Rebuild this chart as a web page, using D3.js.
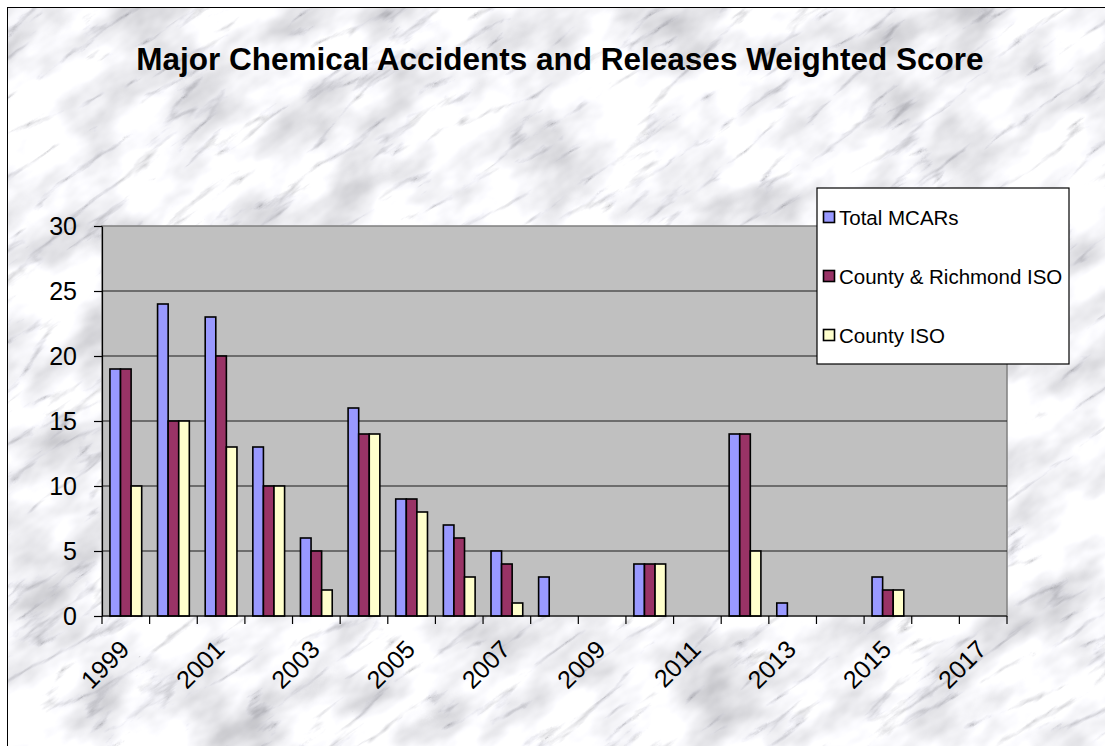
<!DOCTYPE html>
<html>
<head>
  <meta charset="utf-8">
  <script src="https://d3js.org/d3.v7.min.js"></script>
  <style>
    body { margin: 0; background: #fff; }
    text { font-family: Arial, "Liberation Sans", sans-serif; fill: #000; }
  </style>
</head>
<body>
<script type="text/javascript">
  "use strict";

  // chart values
  var years = ["1999", "2000", "2001", "2002", "2003", "2004", "2005", "2006", "2007", "2008",
               "2009", "2010", "2011", "2012", "2013", "2014", "2015", "2016", "2017"];
  var seriesNames = ["Total MCARs", "County & Richmond ISO", "County ISO"];
  var totalMcars        = [19, 24, 23, 13, 6, 16, 9, 7, 5, 3, 0, 4, 0, 14, 1, 0, 3, 0, 0];
  var countyRichmondIso = [19, 15, 20, 10, 5, 14, 9, 6, 4, 0, 0, 4, 0, 14, 0, 0, 2, 0, 0];
  var countyIso         = [10, 15, 13, 10, 2, 14, 8, 3, 1, 0, 0, 4, 0, 5, 0, 0, 2, 0, 0];
  var yTicks = [0, 5, 10, 15, 20, 25, 30];
  var xLabels = ["1999", "2001", "2003", "2005", "2007", "2009", "2011", "2013", "2015", "2017"];
  var colors = ["#9999ff", "#993366", "#ffffcc"];

  var W = 1105, H = 746;
  var plot = { left: 102, right: 1007, top: 226, bottom: 616 };

  var seriesValues = [totalMcars, countyRichmondIso, countyIso];
  var rows = [];
  years.forEach(function (yr, i) {
    seriesNames.forEach(function (s, j) {
      rows.push({ year: yr, series: s, value: seriesValues[j][i], color: colors[j] });
    });
  });

  var svg = d3.select("body").append("svg")
      .attr("width", W)
      .attr("height", H);

  /*
    marble background: soft clouds times thin veins
  */
  var defs = svg.append("defs");
  var f = defs.append("filter")
      .attr("id", "marble")
      .attr("x", "0%").attr("y", "0%")
      .attr("width", "100%").attr("height", "100%");
  f.append("feTurbulence")
      .attr("type", "fractalNoise")
      .attr("baseFrequency", "0.012 0.022")
      .attr("numOctaves", 4)
      .attr("seed", 3)
      .attr("result", "cloudNoise");
  f.append("feColorMatrix")
      .attr("in", "cloudNoise")
      .attr("type", "matrix")
      .attr("values", "0.9 0 0 0 0.47  0.9 0 0 0 0.47  0.9 0 0 0 0.5  0 0 0 0 1")
      .attr("result", "clouds");
  f.append("feTurbulence")
      .attr("type", "turbulence")
      .attr("baseFrequency", "0.007 0.03")
      .attr("numOctaves", 5)
      .attr("seed", 11)
      .attr("result", "veinNoise");
  f.append("feColorMatrix")
      .attr("in", "veinNoise")
      .attr("type", "matrix")
      .attr("values", "2.2 0 0 0 0.6  2.2 0 0 0 0.6  2.2 0 0 0 0.62  0 0 0 0 1")
      .attr("result", "veins");
  f.append("feBlend")
      .attr("in", "clouds")
      .attr("in2", "veins")
      .attr("mode", "multiply");

  defs.append("clipPath").attr("id", "chartClip")
    .append("rect")
      .attr("x", 7).attr("y", 7)
      .attr("width", W).attr("height", H);

  var bg = svg.append("g").attr("clip-path", "url(#chartClip)");
  bg.append("rect")
      .attr("x", 7).attr("y", 7).attr("width", W).attr("height", H)
      .attr("fill", "#e6e6ea");
  bg.append("g")
      .attr("transform", "translate(550,370) rotate(-35)")
    .append("rect")
      .attr("x", -900).attr("y", -700).attr("width", 1800).attr("height", 1400)
      .attr("filter", "url(#marble)");

  svg.append("rect")
      .attr("x", 7.5).attr("y", 7.5).attr("width", W).attr("height", H)
      .attr("fill", "none")
      .attr("stroke", "#000")
      .attr("stroke-width", 1);

  /*
    scales
  */
  var x = d3.scaleBand()
      .domain(years)
      .range([plot.left, plot.right]);

  var xSub = d3.scaleBand()
      .domain(seriesNames)
      .range([0, x.bandwidth()])
      .paddingOuter(0.75);

  var y = d3.scaleLinear()
      .domain([0, 30])
      .range([plot.bottom, plot.top]);

  // plot area
  svg.append("rect")
      .attr("x", plot.left).attr("y", plot.top)
      .attr("width", plot.right - plot.left)
      .attr("height", plot.bottom - plot.top)
      .attr("fill", "#c0c0c0")
      .attr("stroke", "#808080")
      .attr("stroke-width", 1.5);

  svg.append("g")
    .selectAll("line")
    .data(yTicks.filter(function (d) { return d > 0 && d < 30; }))
    .enter().append("line")
      .attr("x1", plot.left).attr("x2", plot.right)
      .attr("y1", function (d) { return y(d); })
      .attr("y2", function (d) { return y(d); })
      .attr("stroke", "#1a1a1a")
      .attr("stroke-width", 1.2);

  // bars
  svg.append("g")
    .selectAll("rect")
    .data(rows.filter(function (d) { return d.value > 0; }))
    .enter().append("rect")
      .attr("x", function (d) { return x(d.year) + xSub(d.series); })
      .attr("y", function (d) { return y(d.value); })
      .attr("width", xSub.bandwidth())
      .attr("height", function (d) { return y(0) - y(d.value); })
      .attr("fill", function (d) { return d.color; })
      .attr("stroke", "#000")
      .attr("stroke-width", 1.6);

  /*
    axes
  */
  var yAxis = d3.axisLeft(y)
      .tickValues(yTicks)
      .tickSize(8)
      .tickPadding(17)
      .tickSizeOuter(0);

  var gy = svg.append("g")
      .attr("transform", "translate(" + plot.left + ",0)")
      .call(yAxis);
  gy.selectAll("text")
      .style("font-size", "25px")
      .style("font-family", "Arial, 'Liberation Sans', sans-serif");
  gy.select(".domain").attr("stroke", "#000").attr("stroke-width", 1.2);
  gy.selectAll(".tick line").attr("stroke", "#000").attr("stroke-width", 1.2);

  var boundaries = years.map(function (d) { return x(d); }).concat([plot.right]);
  var gx = svg.append("g");
  gx.append("line")
      .attr("x1", plot.left).attr("x2", plot.right)
      .attr("y1", plot.bottom).attr("y2", plot.bottom)
      .attr("stroke", "#000").attr("stroke-width", 1.2);
  gx.selectAll("line.tick")
    .data(boundaries)
    .enter().append("line")
      .attr("class", "tick")
      .attr("x1", function (d) { return d; })
      .attr("x2", function (d) { return d; })
      .attr("y1", plot.bottom).attr("y2", plot.bottom + 8)
      .attr("stroke", "#000").attr("stroke-width", 1.2);
  gx.selectAll("text")
    .data(xLabels)
    .enter().append("text")
      .attr("transform", function (d) {
        return "translate(" + (x(d) + x.bandwidth() / 2 + 5) + "," + (plot.bottom + 35) + ") rotate(-45)";
      })
      .attr("text-anchor", "end")
      .style("font-size", "25px")
      .text(function (d) { return d; });

  // title
  svg.append("text")
      .attr("x", 560)
      .attr("y", 70)
      .attr("text-anchor", "middle")
      .style("font-size", "31.5px")
      .style("font-weight", "bold")
      .text("Major Chemical Accidents and Releases Weighted Score");

  /*
    legend
  */
  var legend = svg.append("g")
      .attr("transform", "translate(817,188)");
  legend.append("rect")
      .attr("width", 252).attr("height", 176)
      .attr("fill", "#fff")
      .attr("stroke", "#000")
      .attr("stroke-width", 1.2);
  var item = legend.selectAll("g.item")
      .data(seriesNames)
      .enter().append("g")
      .attr("class", "item")
      .attr("transform", function (d, i) { return "translate(0," + (29 + i * 59) + ")"; });
  item.append("rect")
      .attr("x", 6.5).attr("y", -5.5)
      .attr("width", 11).attr("height", 11)
      .attr("fill", function (d, i) { return colors[i]; })
      .attr("stroke", "#000")
      .attr("stroke-width", 1.6);
  item.append("text")
      .attr("x", 22)
      .attr("y", 7.5)
      .style("font-size", "20.5px")
      .text(function (d) { return d; });
</script>
</body>
</html>
